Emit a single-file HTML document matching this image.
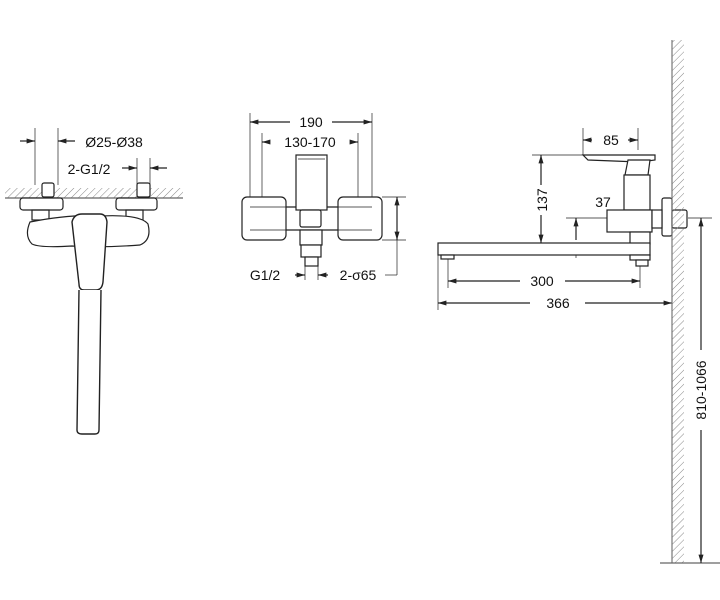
<!DOCTYPE html>
<html><head><style>body{margin:0;background:#fff}svg{display:block}</style></head><body>
<svg width="720" height="600" viewBox="0 0 720 600" xmlns="http://www.w3.org/2000/svg" font-family="Liberation Sans, Arial, sans-serif">
<defs>
<pattern id="h" width="5" height="5" patternUnits="userSpaceOnUse" patternTransform="rotate(45)"><line x1="0" y1="0" x2="0" y2="5" stroke="#888" stroke-width="1"/></pattern>
<marker id="a" viewBox="0 0 10 10" refX="10" refY="5" markerWidth="7" markerHeight="7" orient="auto-start-reverse"><path d="M0,2 L10,5 L0,8z" fill="#222"/></marker>
</defs>
<g stroke="#222" fill="none" stroke-width="1.2">
<!-- LEFT VIEW -->
<line x1="35" y1="128" x2="35" y2="185" stroke-width=".7"/><line x1="58" y1="128" x2="58" y2="185" stroke-width=".7"/>
<line x1="20" y1="141" x2="35" y2="141" marker-end="url(#a)"/><line x1="75" y1="141" x2="58" y2="141" marker-end="url(#a)"/>
<line x1="137" y1="158" x2="137" y2="197" stroke-width=".7"/><line x1="150" y1="158" x2="150" y2="197" stroke-width=".7"/>
<line x1="122" y1="168" x2="137" y2="168" marker-end="url(#a)"/><line x1="167" y1="168" x2="150" y2="168" marker-end="url(#a)"/>
<rect x="5" y="188" width="178" height="10" fill="url(#h)" stroke="none"/>
<line x1="5" y1="198" x2="183" y2="198" stroke="#666"/>
<rect x="42" y="183" width="12" height="14" rx="2" fill="#fff"/><rect x="137" y="183" width="13" height="14" rx="2" fill="#fff"/>
<rect x="20" y="198" width="43" height="12" rx="3" fill="#fff"/><rect x="116" y="198" width="41" height="12" rx="3" fill="#fff"/>
<rect x="32" y="210" width="17" height="10"/><rect x="126" y="210" width="17" height="10"/>
<path d="M30,222 Q70,214 100,216 Q140,214 148,224 Q152,240 140,245 Q100,248 72,246 Q40,248 32,244 Q24,236 30,222z" fill="#fff"/>
<path d="M72,222 Q74,214 82,214 L100,214 Q106,214 107,222 L103,282 Q102,290 96,290 L84,290 Q79,290 79,284z" fill="#fff" stroke-width="1.4"/>
<path d="M79,290 L77,430 Q77,434 82,434 L95,434 Q99,434 99,430 L101,290" fill="#fff" stroke-width="1.4"/>
<!-- MIDDLE VIEW -->
<line x1="250" y1="113" x2="250" y2="200" stroke-width=".7"/><line x1="372" y1="113" x2="372" y2="200" stroke-width=".7"/>
<line x1="290" y1="122" x2="250" y2="122" marker-end="url(#a)"/><line x1="332" y1="122" x2="372" y2="122" marker-end="url(#a)"/>
<line x1="262" y1="133" x2="262" y2="235" stroke-width=".7"/><line x1="358" y1="133" x2="358" y2="235" stroke-width=".7"/>
<line x1="270" y1="142" x2="262" y2="142" marker-end="url(#a)"/><line x1="350" y1="142" x2="358" y2="142" marker-end="url(#a)"/>
<rect x="296" y="155" width="31" height="55" fill="#fff"/><line x1="298" y1="159" x2="325" y2="159" stroke-width=".7"/>
<rect x="242" y="197" width="44" height="43" rx="5" fill="#fff"/><rect x="338" y="197" width="44" height="43" rx="5" fill="#fff"/>
<path d="M286,207 L296,207 M327,207 L338,207 M286,230 L338,230" />
<line x1="250" y1="207" x2="286" y2="207" stroke-width=".7"/><line x1="250" y1="230" x2="286" y2="230" stroke-width=".7"/>
<line x1="338" y1="207" x2="372" y2="207" stroke-width=".7"/><line x1="338" y1="230" x2="372" y2="230" stroke-width=".7"/>
<rect x="300" y="210" width="21" height="17" rx="2" fill="#fff"/>
<rect x="300" y="230" width="22" height="15" fill="#fff"/><rect x="301" y="245" width="20" height="12" fill="#fff"/><rect x="305" y="257" width="13" height="9" fill="#fff"/>
<line x1="305" y1="266" x2="305" y2="280" stroke-width=".7"/><line x1="318" y1="266" x2="318" y2="280" stroke-width=".7"/>
<line x1="295" y1="275" x2="305" y2="275" marker-end="url(#a)"/><line x1="328" y1="275" x2="318" y2="275" marker-end="url(#a)"/>
<line x1="382" y1="197" x2="406" y2="197" stroke-width=".7"/><line x1="382" y1="240" x2="406" y2="240" stroke-width=".7"/>
<line x1="397" y1="218" x2="397" y2="197" marker-end="url(#a)"/><line x1="397" y1="218" x2="397" y2="240" marker-end="url(#a)"/>
<line x1="397" y1="240" x2="397" y2="275" stroke-width=".7"/><line x1="385" y1="275" x2="397" y2="275" stroke-width=".7"/>
<!-- RIGHT VIEW -->
<line x1="583" y1="128" x2="583" y2="155" stroke-width=".7"/><line x1="638" y1="128" x2="638" y2="150" stroke-width=".7"/>
<line x1="592" y1="140" x2="583" y2="140" marker-end="url(#a)"/><line x1="628" y1="140" x2="638" y2="140" marker-end="url(#a)"/>
<line x1="532" y1="155" x2="583" y2="155" stroke-width=".7"/>
<line x1="541" y1="185" x2="541" y2="155" marker-end="url(#a)"/><line x1="541" y1="215" x2="541" y2="243" marker-end="url(#a)"/>
<path d="M583,155 L655,155 L655,160 L640,162 L588,160z" fill="#fff"/>
<path d="M628,160 L650,160 L648,175 L625,175z" fill="#fff"/>
<rect x="624" y="175" width="26" height="35" fill="#fff"/>
<rect x="607" y="210" width="45" height="22" fill="#fff"/>
<rect x="662" y="198" width="10" height="38" rx="2" fill="#fff"/><rect x="652" y="210" width="10" height="18" fill="#fff"/><rect x="672" y="210" width="15" height="18" rx="2" fill="#fff"/>
<rect x="630" y="232" width="20" height="12" fill="#fff"/>
<line x1="566" y1="218" x2="607" y2="218" stroke-width=".7"/>
<line x1="576" y1="240" x2="576" y2="218" marker-end="url(#a)"/><line x1="576" y1="248" x2="576" y2="258" stroke-width=".7"/>
<rect x="438" y="243" width="212" height="12" fill="#fff"/>
<rect x="441" y="255" width="13" height="4" fill="#fff"/>
<rect x="630" y="255" width="20" height="5" fill="#fff"/><rect x="636" y="260" width="12" height="6" fill="#fff"/>
<line x1="448" y1="259" x2="448" y2="288" stroke-width=".7"/><line x1="640" y1="266" x2="640" y2="288" stroke-width=".7"/>
<line x1="520" y1="281" x2="448" y2="281" marker-end="url(#a)"/><line x1="565" y1="281" x2="640" y2="281" marker-end="url(#a)"/>
<line x1="438" y1="255" x2="438" y2="310" stroke-width=".7"/>
<line x1="530" y1="303" x2="438" y2="303" marker-end="url(#a)"/><line x1="585" y1="303" x2="672" y2="303" marker-end="url(#a)"/>
<!-- wall -->
<rect x="672" y="40" width="12" height="523" fill="url(#h)" stroke="none"/>
<line x1="672" y1="40" x2="672" y2="563" stroke="#777"/>
<line x1="660" y1="563" x2="720" y2="563" stroke="#666"/>
<line x1="688" y1="218" x2="712" y2="218" stroke-width=".7"/>
<line x1="701" y1="350" x2="701" y2="218" marker-end="url(#a)"/><line x1="701" y1="430" x2="701" y2="563" marker-end="url(#a)"/>
</g>
<g font-size="14" fill="#111" text-anchor="middle">
<text x="114" y="147">Ø25-Ø38</text>
<text x="89" y="174">2-G1/2</text>
<text x="311" y="127">190</text>
<text x="310" y="147">130-170</text>
<text x="265" y="280">G1/2</text>
<text x="358" y="280">2-σ65</text>
<text x="611" y="145">85</text>
<text x="603" y="207">37</text>
<text x="542" y="286">300</text>
<text x="558" y="308">366</text>
<text transform="translate(547,200) rotate(-90)">137</text>
<text transform="translate(706,390) rotate(-90)">810-1066</text>
</g>
</svg>
</body></html>
